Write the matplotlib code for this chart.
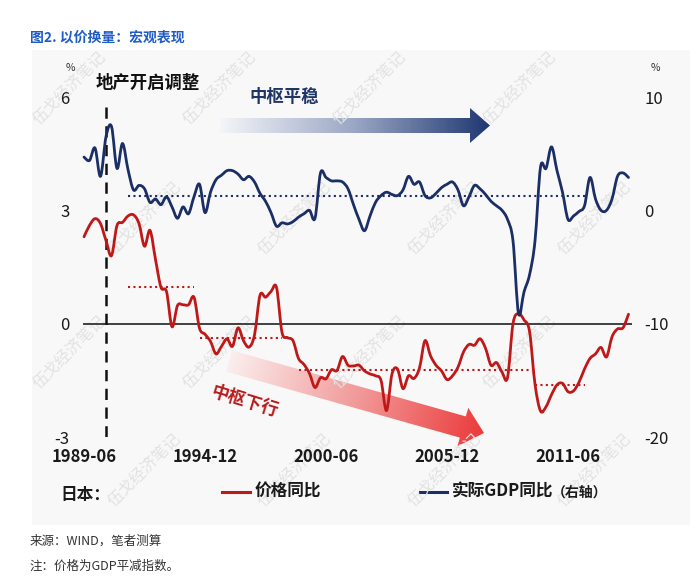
import numpy as np
import pandas as pd
import matplotlib
matplotlib.use("Agg")
import matplotlib.pyplot as plt
from matplotlib.patches import Polygon, Rectangle, PathPatch
from matplotlib.path import Path
from matplotlib.colors import LinearSegmentedColormap
from matplotlib.lines import Line2D

plt.rcParams['font.family'] = ['Noto Sans CJK SC', 'DejaVu Sans']

# ---------------- data ----------------
start_period = "1989Q2"
gdp_yoy = [4.7, 4.4, 5.5, 3.0, 6.5, 7.4, 3.7, 5.9, 3.6, 1.8,
           2.2, 1.9, 0.7, 1.0, 0.5, 1.2, 0.3, -0.7, 0.3, -0.3,
           1.2, 2.3, -0.2, 1.6, 2.7, 3.1, 3.5, 3.5, 3.2, 2.7,
           3.0, 2.5, 1.5, 0.8, -0.2, -1.4, -1.1, -1.2, -1.0, -0.6,
           -0.3, 0.0, -0.7, 3.3, 2.9, 2.6, 2.6, 2.5, 1.9, 0.5,
           -0.8, -1.8, -0.5, 0.7, 1.3, 1.6, 1.4, 1.3, 1.8, 3.0,
           2.3, 2.5, 1.3, 1.1, 1.5, 2.0, 2.3, 2.5, 1.8, 0.4,
           1.2, 2.2, 1.9, 1.4, 0.8, 0.4, 0.0, -0.8, -2.7, -9.1,
           -7.2, -5.7, -2.7, 3.8, 3.7, 5.6, 3.5, 1.6, -0.8, -0.5,
           -0.1, 0.4, 2.9, 1.0, 0.0, 0.0, 1.0, 3.0, 3.3, 2.9]
price_yoy = [2.3, 2.6, 2.78, 2.65, 2.2, 1.8, 2.6, 2.68, 2.85, 2.88,
             2.65, 2.05, 2.47, 1.7, 0.96, 0.85, -0.08, 0.48, 0.5, 0.5,
             0.7, -0.12, -0.28, -0.47, -0.8, -0.6, -0.4, -0.6, -0.11, -0.45,
             -0.62, -0.3, 0.75, 0.7, 0.85, 0.96, -0.23, -0.37, -0.45, -0.92,
             -1.08, -1.32, -1.69, -1.43, -1.46, -1.22, -1.24, -0.87, -1.1, -1.12,
             -1.1, -1.25, -1.33, -1.38, -1.5, -2.3, -1.33, -1.2, -1.72, -1.38,
             -1.45, -1.17, -0.45, -0.85, -1.1, -1.25, -1.48, -1.38, -1.15, -0.75,
             -0.55, -0.57, -0.4, -0.65, -1.1, -1.03, -1.28, -1.43, 0.0, 0.27,
             0.1, -0.2, -1.6, -2.31, -2.2, -1.88, -1.62, -1.58, -1.8, -1.78,
             -1.55, -1.2, -0.92, -0.8, -0.63, -0.88, -0.35, -0.14, -0.11, 0.25]

tick_labels = ["1989-06", "1994-12", "2000-06", "2005-12", "2011-06"]
event_date = "1990-06"

# average levels (start date, end date, level)
price_avg_start = ["1991-06", "1994-09", "1999-03", "2009-12"]
price_avg_end = ["1994-06", "1998-06", "2009-09", "2012-03"]
price_avg_level = [0.98, -0.37, -1.22, -1.62]
gdp_avg_start = "1991-06"
gdp_avg_end = "2012-03"
gdp_avg_level = 1.24

left_ticks = [6, 3, 0, -3]
right_ticks = [10, 0, -10, -20]

# ---------------- helpers ----------------
periods = pd.period_range(start_period, periods=len(gdp_yoy), freq="Q")
labels_all = [f"{p.year}-{p.end_time.month:02d}" for p in periods]
idx = {lab: i for i, lab in enumerate(labels_all)}
xs = np.arange(len(gdp_yoy))

NAVY = "#1b2f66"
RED = "#bf1818"
FONT = ['Noto Sans CJK SC', 'DejaVu Sans']

W, H = 700, 580
fig = plt.figure(figsize=(W / 100, H / 100), dpi=100)
fig.patch.set_facecolor("white")

# background overlay axes in pixel coordinates
bg = fig.add_axes([0, 0, 1, 1], zorder=0)
bg.set_xlim(0, W)
bg.set_ylim(H, 0)
bg.axis("off")
bg.add_patch(Rectangle((32, 50), 658, 475, facecolor="#f8f8f8", edgecolor="none"))

# watermarks
for r, yy in enumerate([88, 218, 352, 470]):
    off = 0 if r % 2 == 0 else 75
    for xx in range(70 + off - 150, 720, 150):
        if 45 < xx < 645:
            bg.text(xx, yy, "伍戈经济笔记", rotation=45, fontsize=11.5, color="#e2e2e2",
                    ha="center", va="center", family=FONT)


def gradient_arrow(ax, S, T, w, hw, hl, cmap):
    S = np.array(S, float)
    T = np.array(T, float)
    d = T - S
    L = np.hypot(*d)
    u = d / L
    n = np.array([-u[1], u[0]])
    B = S + u * (L - hl)
    verts = [S + n * w, B + n * w, B + n * hw, T, B - n * hw, B - n * w, S - n * w]
    poly = Polygon(verts, closed=True, facecolor="none", edgecolor="none")
    ax.add_patch(poly)
    vs = np.array(verts)
    x0, x1 = vs[:, 0].min() - 2, vs[:, 0].max() + 2
    y0, y1 = vs[:, 1].min() - 2, vs[:, 1].max() + 2
    gx, gy = np.meshgrid(np.linspace(x0, x1, 300), np.linspace(y0, y1, 150))
    proj = ((gx - S[0]) * u[0] + (gy - S[1]) * u[1]) / L
    proj = np.clip(proj, 0, 1)
    im = ax.imshow(proj, extent=(x0, x1, y0, y1), origin="lower", cmap=cmap,
                   aspect="auto", interpolation="bilinear", zorder=1)
    im.set_clip_path(poly)


def smooth_line(ax, x, y, **kw):
    """Draw a smoothed (Excel-style) line through the data points."""
    P = np.column_stack([x, y]).astype(float)
    verts = [P[0]]
    codes = [Path.MOVETO]
    n = len(P)
    for i in range(n - 1):
        p0 = P[i - 1] if i > 0 else P[i]
        p1 = P[i]
        p2 = P[i + 1]
        p3 = P[i + 2] if i + 2 < n else P[i + 1]
        c1 = p1 + (p2 - p0) / 6.0
        c2 = p2 - (p3 - p1) / 6.0
        verts += [c1, c2, p2]
        codes += [Path.CURVE4] * 3
    patch = PathPatch(Path(verts, codes), facecolor="none", capstyle="round",
                      joinstyle="round", **kw)
    ax.add_patch(patch)
    return patch


blue_cmap = LinearSegmentedColormap.from_list("b", ["#f4f5f8", "#9aa6c4", "#1f3872"])
red_cmap = LinearSegmentedColormap.from_list("r", ["#fbeeee", "#f29a9a", "#ec3b3b"])
gradient_arrow(bg, (220, 125.5), (490, 125.5), 7.5, 17.5, 20, blue_cmap)
gradient_arrow(bg, (229, 361), (484, 433), 11, 20, 22, red_cmap)

# ---------------- main axes ----------------
ax_left, ax_right = 78, 640
y_top, y_bot = 97, 437
ax = fig.add_axes([ax_left / W, 1 - y_bot / H, (ax_right - ax_left) / W, (y_bot - y_top) / H])
ax.set_zorder(2)
ax.patch.set_visible(False)
ax.set_xlim((ax_left - 84) / 5.5, (ax_right - 84) / 5.5)
ax.set_ylim(-3, 6)
for s in ax.spines.values():
    s.set_visible(False)

ax2 = ax.twinx()
ax2.set_zorder(3)
ax2.patch.set_visible(False)
ax2.set_ylim(-20, 10)
for s in ax2.spines.values():
    s.set_visible(False)

ax.hlines(0, -0.2, len(xs) - 0.4, color="#222222", lw=1.2, zorder=2)
ev = idx[event_date]
ax.vlines(ev, -3, 5.84, color="#111111", lw=1.8, linestyles=(0, (4.5, 3)), zorder=3)

for s0, s1, lv in zip(price_avg_start, price_avg_end, price_avg_level):
    ax.hlines(lv, idx[s0], idx[s1], color=RED, lw=1.5, linestyles=(0, (1, 1.6)), zorder=3)
ax2.hlines(gdp_avg_level, idx[gdp_avg_start], idx[gdp_avg_end], color=NAVY, lw=1.5,
           linestyles=(0, (1, 1.6)), zorder=3)

smooth_line(ax, xs, price_yoy, edgecolor=RED, lw=2.0, zorder=4)
smooth_line(ax2, xs, gdp_yoy, edgecolor=NAVY, lw=2.0, zorder=4)

ax.set_xticks([idx[t] for t in tick_labels])
ax.set_xticklabels(tick_labels, fontsize=12, fontweight="bold", color="#1a1a1a", family=FONT)
ax.tick_params(axis="x", length=0, pad=8)
ax.set_yticks(left_ticks)
ax.set_yticklabels([str(t) for t in left_ticks], fontsize=12, color="#1a1a1a", family=FONT)
ax.tick_params(axis="y", length=0, pad=6)
ax2.set_yticks(right_ticks)
ax2.set_yticklabels([str(t) for t in right_ticks], fontsize=12, color="#1a1a1a", family=FONT)
ax2.tick_params(axis="y", length=0, pad=3)

# ---------------- texts ----------------
bg.text(30, 38, "图2. 以价换量：宏观表现", fontsize=10, fontweight="bold", color="#1e5cc8",
        ha="left", va="center", family=FONT)
bg.text(70, 68, "%", fontsize=7.5, color="#333333", ha="center", va="center", family=FONT)
bg.text(655, 68, "%", fontsize=7.5, color="#333333", ha="center", va="center", family=FONT)
bg.text(148, 83, "地产开启调整", fontsize=12.5, fontweight="bold", color="#111111",
        ha="center", va="center", family=FONT)
bg.text(284, 97, "中枢平稳", fontsize=12.5, fontweight="bold", color="#1f3566",
        ha="center", va="center", family=FONT)
bg.text(245, 401, "中枢下行", fontsize=12.5, fontweight="bold", color="#b81c1c",
        ha="center", va="center", rotation=-17, family=FONT)

# legend
bg.text(60, 495, "日本：", fontsize=12, fontweight="bold", color="#1a1a1a",
        ha="left", va="center", family=FONT)
bg.add_line(Line2D([222, 250], [492, 492], color=RED, lw=2.2))
bg.text(255, 492, "价格同比", fontsize=12, fontweight="bold", color="#1a1a1a",
        ha="left", va="center", family=FONT)
bg.add_line(Line2D([420, 447], [492, 492], color=NAVY, lw=2.2))
bg.text(452, 492, "实际GDP同比", fontsize=12, fontweight="bold", color="#1a1a1a",
        ha="left", va="center", family=FONT)
bg.text(552, 493, "（右轴）", fontsize=10, fontweight="bold", color="#1a1a1a",
        ha="left", va="center", family=FONT)

bg.text(30, 541, "来源：WIND，笔者测算", fontsize=9, color="#333333",
        ha="left", va="center", family=FONT)
bg.text(30, 566, "注：价格为GDP平减指数。", fontsize=9, color="#333333",
        ha="left", va="center", family=FONT)

fig.savefig("out.png", dpi=100, facecolor="white")
